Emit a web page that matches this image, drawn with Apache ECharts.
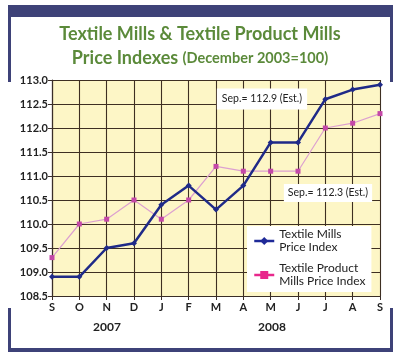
<!DOCTYPE html>
<html><head><meta charset="utf-8">
<script src="https://cdn.jsdelivr.net/npm/echarts@6/dist/echarts.min.js"></script>
<style>html,body{margin:0;padding:0;background:#fff}#c{width:400px;height:357px}</style>
</head><body><div id="c"></div>
<script>
var months = ['S','O','N','D','J','F','M','A','M','J','J','A','S'];
var textileMills = [108.9,108.9,109.5,109.6,110.4,110.8,110.3,110.8,111.7,111.7,112.6,112.8,112.9];
var textileProduct = [109.3,110.0,110.1,110.5,110.1,110.5,111.2,111.1,111.1,111.1,112.0,112.1,112.3];
var yTicks = [108.5,109.0,109.5,110.0,110.5,111.0,111.5,112.0,112.5,113.0];
var years = ['2007','2008'];
var seriesNames = ['Textile Mills\nPrice Index','Textile Product\nMills Price Index'];
var notes = ['Sep.= 112.9 (Est.)','Sep.= 112.3 (Est.)'];

var navy = '#3e4278';
var font = 'Lato, "Open Sans", sans-serif';
var chart = echarts.init(document.getElementById('c'), null, {renderer:'canvas'});
chart.setOption({
  animation:false,
  backgroundColor:'#fff',
  title:{
    text:'Textile Mills & Textile Product Mills\n{a|Price Indexes} {b|(December 2003=100)}',
    left:'center', top:17,
    textStyle:{color:'#5b8a3a', fontFamily:font, fontWeight:'bold', fontSize:18, lineHeight:24,
      rich:{a:{color:'#5b8a3a',fontFamily:font,fontWeight:'bold',fontSize:18},
            b:{color:'#5b8a3a',fontFamily:font,fontWeight:'bold',fontSize:14.5}}}
  },
  grid:{left:52, top:80, right:20, bottom:61, backgroundColor:'#fdf6c6', show:true, borderWidth:0},
  xAxis:{type:'category', data:months, boundaryGap:false,
    axisLine:{lineStyle:{color:'#3a2e28', width:1.2}},
    axisTick:{show:true, length:4, lineStyle:{color:'#3a2e28'}},
    axisLabel:{color:'#222', fontFamily:font, fontWeight:'bold', fontSize:11, margin:6},
    splitLine:{show:true, lineStyle:{color:'#3e2f22', width:1.1}}},
  yAxis:{type:'value', min:108.5, max:113.0, interval:0.5,
    axisLine:{show:true, lineStyle:{color:'#3a2e28', width:1.2}},
    axisTick:{show:true, length:4, lineStyle:{color:'#3a2e28'}},
    axisLabel:{color:'#222', fontFamily:font, fontWeight:'bold', fontSize:11, margin:4,
      formatter:function(v){return v.toFixed(1);}},
    splitLine:{show:true, lineStyle:{color:'#3e2f22', width:1.1}}},
  legend:{
    orient:'vertical', left:247, top:226, itemGap:8, itemWidth:20, itemHeight:10,
    backgroundColor:'#fff', padding:[2,6,4,6],
    textStyle:{fontFamily:font, fontSize:12, color:'#222', lineHeight:13},
    data:[
      {name:seriesNames[0], itemStyle:{color:'#1f2a98'}, lineStyle:{color:'#1f2a98', width:2.5}},
      {name:seriesNames[1], itemStyle:{color:'#e8288c'}, lineStyle:{color:'#e8288c', width:2.5}}
    ]
  },
  series:[
    {name:seriesNames[0], type:'line', data:textileMills, symbol:'diamond', symbolSize:6,
     lineStyle:{color:'#1f2a88', width:2.5}, itemStyle:{color:'#1f2a88'}, z:3},
    {name:seriesNames[1], type:'line', data:textileProduct, symbol:'rect', symbolSize:5, legendIcon:'diamond',
     lineStyle:{color:'#dca0d0', width:1.2}, itemStyle:{color:'#c448a8'}, z:2}
  ],
  graphic:[
    {type:'rect', shape:{x:8,y:5,width:385,height:12}, style:{fill:navy}},
    {type:'rect', shape:{x:8,y:5,width:3,height:77}, style:{fill:navy}},
    {type:'rect', shape:{x:390,y:5,width:3,height:77}, style:{fill:navy}},
    {type:'rect', shape:{x:8,y:308,width:3,height:44}, style:{fill:navy}},
    {type:'rect', shape:{x:390,y:308,width:3,height:44}, style:{fill:navy}},
    {type:'rect', shape:{x:8,y:348,width:385,height:4}, style:{fill:navy}},
    {type:'text', x:107, y:327, style:{text:years[0], fontFamily:font, fontWeight:'bold', fontSize:12, fill:'#222', align:'center', verticalAlign:'middle'}},
    {type:'text', x:272, y:327, style:{text:years[1], fontFamily:font, fontWeight:'bold', fontSize:12, fill:'#222', align:'center', verticalAlign:'middle'}},
    {type:'text', x:262, y:99, z:10, style:{text:notes[0], fontFamily:font, fontSize:10.5, fill:'#222', align:'center', verticalAlign:'middle', backgroundColor:'#fff', padding:[5,5,5,5]}},
    {type:'text', x:328, y:193, z:10, style:{text:notes[1], fontFamily:font, fontSize:10.5, fill:'#222', align:'center', verticalAlign:'middle', backgroundColor:'#fff', padding:[4,4,3,4]}}
  ]
});
</script></body></html>
